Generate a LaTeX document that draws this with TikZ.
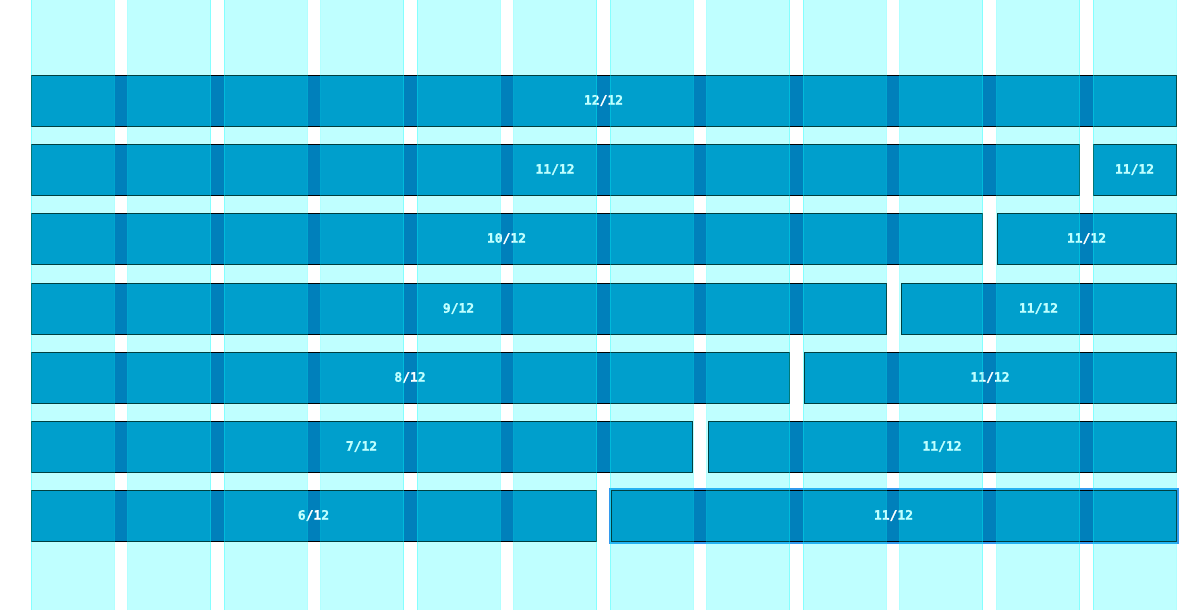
\documentclass[tikz,border=0pt]{standalone}
\usepackage{fontspec}
\newfontfamily\labelfont[BoldFont={DejaVu Sans Mono Bold},BoldFeatures={FakeBold=1.2}]{DejaVu Sans Mono}
\definecolor{barblue}{RGB}{0,128,187}
\definecolor{selblue}{RGB}{51,153,238}
\definecolor{gridcyan}{RGB}{0,255,255}
\begin{document}
\begin{tikzpicture}[x=1pt,y=-1pt,
  bar/.style={draw=black, line width=1pt, fill=barblue, text=white,
    font=\labelfont\bfseries\fontsize{13}{15}\selectfont,
    inner sep=0pt, outer sep=0pt, minimum height=51pt, anchor=north west},
  gridcol/.style={fill=gridcyan, fill opacity=0.25, draw=gridcyan, draw opacity=0.3, line width=1pt}]
\useasboundingbox (0,0) rectangle (1196,610);
% row 1
\node[bar, minimum width=1145pt] (r1) at (31,75) {12/12};
% row 2
\node[bar, minimum width=1048pt] (r2a) at (31,144) {11/12};
\node[bar, minimum width=83pt] (r2b) at (1093,144) {11/12};
% row 3
\node[bar, minimum width=951pt] (r3a) at (31,213) {10/12};
\node[bar, minimum width=179pt] (r3b) at (997,213) {11/12};
% row 4
\node[bar, minimum width=855pt] (r4a) at (31,283) {9/12};
\node[bar, minimum width=275pt] (r4b) at (901,283) {\raisebox{-3pt}{11/12}};
% row 5
\node[bar, minimum width=758pt] (r5a) at (31,352) {8/12};
\node[bar, minimum width=372pt] (r5b) at (804,352) {11/12};
% row 6
\node[bar, minimum width=661pt] (r6a) at (31,421) {7/12};
\node[bar, minimum width=468pt] (r6b) at (708,421) {11/12};
% row 7
\node[bar, minimum width=565pt] (r7a) at (31,490) {6/12};
\draw[selblue, line width=2pt] (609.5,488.5) rectangle (1177.5,542.5);
\node[bar, minimum width=565pt] (r7b) at (611,490) {11/12};
% grid columns on top
\foreach \i in {0,...,11}{
  \fill[gridcol] ({31+\i*96.55},0) rectangle ({31+\i*96.55+83},610);
}
\end{tikzpicture}
\end{document}
